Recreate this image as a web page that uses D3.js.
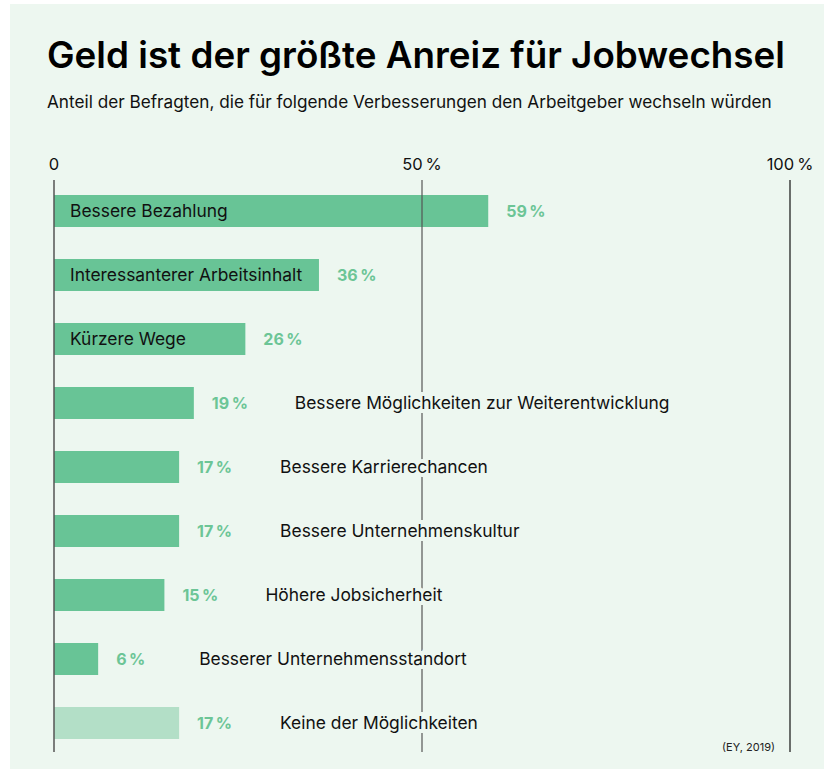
<!DOCTYPE html>
<html>
<head>
<meta charset="utf-8">
<script src="https://cdn.jsdelivr.net/npm/d3@7"></script>
<style>
  body { margin: 0; background: #fff; }
  svg text { font-family: Inter, "Noto Sans", sans-serif; }
</style>
</head>
<body>
<div id="chart"></div>
<script>
// data
var categories = [
  "Bessere Bezahlung",
  "Interessanterer Arbeitsinhalt",
  "Kürzere Wege",
  "Bessere Möglichkeiten zur Weiterentwicklung",
  "Bessere Karrierechancen",
  "Bessere Unternehmenskultur",
  "Höhere Jobsicherheit",
  "Besserer Unternehmensstandort",
  "Keine der Möglichkeiten"
];
var values = [59, 36, 26, 19, 17, 17, 15, 6, 17];
var tickValues = [0, 50, 100];
var tickLabels = ["0", "50\u202F%", "100\u202F%"];

var svgWidth = 824, svgHeight = 769;
var bg = "#edf7f0";

var svg = d3.select("#chart").append("svg")
  .attr("width", svgWidth)
  .attr("height", svgHeight);

svg.append("rect")
  .attr("x", 10).attr("y", 4)
  .attr("width", svgWidth - 10).attr("height", svgHeight - 4)
  .attr("fill", bg);

// title + subtitle
svg.append("text")
  .attr("x", 47).attr("y", 68)
  .attr("font-size", 36.8)
  .attr("font-weight", 600)
  .attr("fill", "#000")
  .attr("textLength", 738)
  .text("Geld ist der größte Anreiz für Jobwechsel");

svg.append("text")
  .attr("x", 47).attr("y", 108)
  .attr("font-size", 17.2)
  .attr("fill", "#111")
  .text("Anteil der Befragten, die für folgende Verbesserungen den Arbeitgeber wechseln würden");

var x = d3.scaleLinear().domain([0, 100]).range([54, 790]);
var y = d3.scaleBand().domain(categories).range([179, 755]).paddingInner(0.5).paddingOuter(0.25);

// bars
svg.selectAll(".bar")
  .data(categories)
  .enter().append("rect")
  .attr("class", "bar")
  .attr("x", x(0))
  .attr("y", d => y(d))
  .attr("width", (d, i) => x(values[i]) - x(0))
  .attr("height", y.bandwidth())
  .attr("fill", (d, i) => i === categories.length - 1 ? "#b3dfc7" : "#68c496");

// grid lines
var lineTop = 180, lineBottom = 752;
svg.selectAll(".grid")
  .data(tickValues)
  .enter().append("line")
  .attr("x1", d => x(d)).attr("x2", d => x(d))
  .attr("y1", lineTop).attr("y2", lineBottom)
  .attr("stroke", d => d === 100 ? "#111" : "#555")
  .attr("stroke-width", d => d === 0 ? 1.5 : 1.2);

svg.selectAll(".tick")
  .data(tickValues)
  .enter().append("text")
  .attr("x", d => x(d))
  .attr("y", 170)
  .attr("text-anchor", "middle")
  .attr("font-size", 16.5)
  .attr("fill", "#111")
  .text((d, i) => tickLabels[i]);

// value labels
svg.selectAll(".val")
  .data(categories)
  .enter().append("text")
  .attr("x", (d, i) => x(values[i]) + 18)
  .attr("y", d => y(d) + y.bandwidth() / 2)
  .attr("dy", "0.36em")
  .attr("font-size", 16)
  .attr("font-weight", 700)
  .attr("fill", "#6cc596")
  .text((d, i) => values[i] + "\u202F%");

// category labels: inside for wide bars, after the value otherwise
svg.selectAll(".cat")
  .data(categories)
  .enter().append("text")
  .attr("x", (d, i) => values[i] > 25 ? 70 : x(values[i]) + 101)
  .attr("y", d => y(d) + y.bandwidth() / 2)
  .attr("dy", "0.36em")
  .attr("font-size", 17.4)
  .attr("fill", "#111")
  .attr("stroke", (d, i) => values[i] > 25 ? "none" : bg)
  .attr("stroke-width", 8)
  .attr("paint-order", "stroke")
  .text(d => d);

svg.append("text")
  .attr("x", 775).attr("y", 751)
  .attr("text-anchor", "end")
  .attr("font-size", 11)
  .attr("fill", "#222")
  .text("(EY, 2019)");
</script>
</body>
</html>
